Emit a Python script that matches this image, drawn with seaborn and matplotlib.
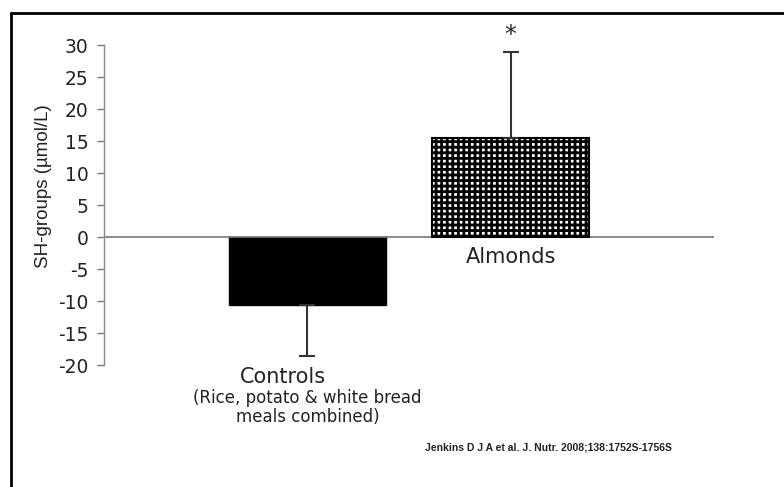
import matplotlib
matplotlib.use("Agg")
import matplotlib.pyplot as plt
import seaborn as sns
import pandas as pd
from matplotlib.lines import Line2D

groups = ["Controls", "Almonds"]
means = [-10.6, 15.4]
err_low = [8.0, 0.0]
err_high = [0.0, 13.5]
yticks = [-20, -15, -10, -5, 0, 5, 10, 15, 20, 25, 30]

sns.set_style("white")
plt.rcParams["font.family"] = ["DejaVu Sans"]
plt.rcParams["hatch.linewidth"] = 2.0

df = pd.DataFrame({"group": groups, "value": means})

fig = plt.figure(figsize=(7.84, 4.87), dpi=100)
ax = fig.add_axes([0.1327, 0.2505, 0.778, 0.657])

sns.barplot(data=df, x="group", y="value", ax=ax, width=0.775,
            color="black", errorbar=None, saturation=1)

bars = ax.patches
bars[0].set_facecolor("black")
bars[0].set_edgecolor("black")
# checkerboard fill for almonds: black grid on white
alm = bars[1]
alm.set_facecolor("white")
alm.set_edgecolor("black")
alm.set_linewidth(0)
alm.set_hatch("+++")
ax.add_patch(plt.Rectangle(alm.get_xy(), alm.get_width(), alm.get_height(),
                           fill=False, ec="black", lw=1.5, zorder=3))

ax.errorbar([0, 1], means, yerr=[err_low, err_high], fmt="none",
            ecolor="#333333", elinewidth=1.5, capsize=6, capthick=1.5, zorder=4)

ax.axhline(0, color="#777777", lw=1.2, zorder=1)
ax.set_xlim(-1, 2)
ax.set_ylim(-20, 30)
ax.set_yticks(yticks)
ax.set_yticklabels([str(t) for t in yticks], fontsize=13.5, color="#222222")
ax.set_xticks([])
ax.set_xlabel("")
ax.set_ylabel("SH-groups (\u00b5mol/L)", fontsize=13.5, color="#222222",
              family=["Liberation Sans", "DejaVu Sans"])
ax.yaxis.set_label_coords(-0.085, 0.558)
ax.tick_params(axis="y", direction="out", length=5, color="#777777", width=1, pad=6, left=True)
for s in ["top", "right", "bottom"]:
    ax.spines[s].set_visible(False)
ax.spines["left"].set_color("#888888")
ax.spines["left"].set_linewidth(1)

ax.text(1, 31.6, "*", ha="center", va="center", fontsize=17, clip_on=False)
ax.text(1, -3.1, "Almonds", ha="center", va="center", fontsize=15, color="#222222")
ax.text(-0.12, -21.9, "Controls", ha="center", va="center", fontsize=15, color="#222222", clip_on=False)
ax.text(0, -26.6, "(Rice, potato & white bread\nmeals combined)", ha="center",
        va="center", fontsize=12, linespacing=1.05, color="#222222", clip_on=False)

fig.text(0.542, 0.082, "Jenkins D J A et al. J. Nutr. 2008;138:1752S-1756S",
         ha="left", va="center", fontsize=7.5, fontweight="bold", color="#222222",
         family=["Liberation Sans", "DejaVu Sans"])

# outer frame (left and top edges visible)
fig.add_artist(Line2D([0.014, 0.014], [0.0, 0.973], color="black", lw=2))
fig.add_artist(Line2D([0.014, 1.0], [0.973, 0.973], color="black", lw=2))

fig.savefig("out.png", dpi=100)
